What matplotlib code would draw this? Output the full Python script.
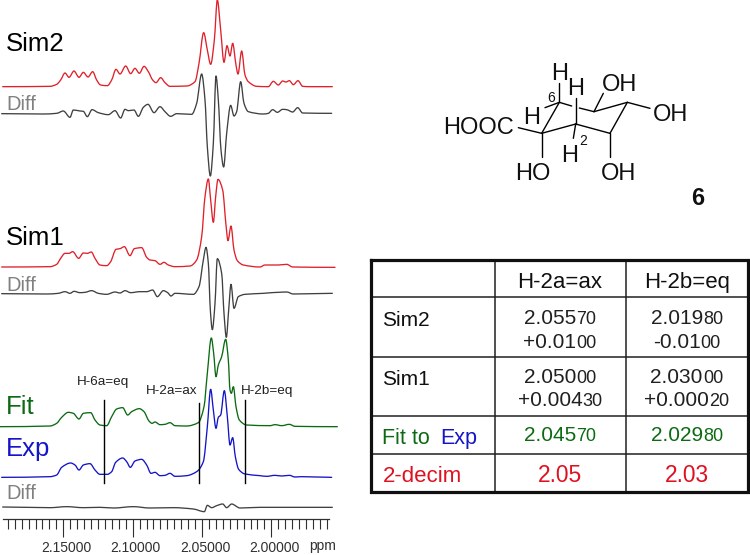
import numpy as np
import matplotlib
matplotlib.use('Agg')
import matplotlib.pyplot as plt
from matplotlib.path import Path
from matplotlib.patches import PathPatch
from matplotlib.transforms import ScaledTranslation

plt.rcParams['font.family'] = ['Liberation Sans', 'DejaVu Sans']

# traces, in pixels x3 (that's the scale of the crops)
sim2_x = [8,150,170,182,195,207,222,237,250,264,278,290,302,322,335,348,360,377,392,405,418,432,445,458,468,482,495,510,560,585,597,611,622,632,643,652,662,672,681,690,698,708,714,725,735,745,770,805,820,835,848,858,868,880,894,908,930,997]
sim2_y = [260,259,253,240,219,232,213,232,217,231,215,240,255,257,240,208,222,198,221,205,220,199,215,240,248,233,248,259,258,245,190,98,150,193,120,0,90,187,137,168,130,195,222,153,225,245,259,260,244,255,243,246,242,254,242,259,260,260]
diff2_x = [5,130,170,190,210,220,240,250,262,276,295,325,345,362,375,385,402,415,430,444,462,480,495,512,530,575,590,605,615,622,631,640,648,655,663,671,680,692,702,710,722,732,745,790,805,818,832,848,860,878,893,908,995]
diff2_y = [341,342,340,333,352,330,333,334,350,329,338,344,332,354,328,332,330,349,322,313,338,320,335,349,341,343,310,222,300,440,528,430,228,300,450,501,400,316,348,335,245,310,335,342,340,329,337,328,329,336,323,339,340]

sim1_x = [5,150,170,182,195,207,218,236,250,262,274,285,300,320,332,348,360,373,390,403,425,440,450,465,480,492,505,525,570,590,605,615,625,632,640,647,654,668,678,684,693,702,712,730,780,795,815,835,860,878,1005]
sim1_y = [291,290,283,265,250,250,245,265,249,250,246,265,285,287,275,238,236,230,257,236,233,262,270,272,283,277,285,290,288,270,200,80,27,90,157,80,28,60,165,212,168,240,272,285,291,285,285,285,283,291,292]
diff1_x = [5,140,175,195,210,222,240,255,275,295,320,345,360,375,392,420,440,458,472,490,503,513,525,580,597,610,618,625,631,637,645,652,665,672,679,686,693,702,715,735,790,815,835,860,880,997]
diff1_y = [371,372,370,365,370,364,368,367,362,370,373,366,369,362,368,365,365,360,380,362,368,378,370,373,350,270,232,280,420,479,400,266,310,430,502,420,343,415,380,373,370,368,367,366,372,370]

fit_x = [0,150,170,185,205,220,237,250,272,285,300,320,335,350,368,383,395,418,432,447,456,465,480,495,510,525,560,595,612,622,634,641,648,655,665,677,685,690,694,700,708,718,740,810,825,845,868,885,1012]
fit_y = [200,198,190,172,157,160,177,160,158,180,195,197,170,147,143,165,155,146,155,183,190,186,194,193,188,197,198,188,140,40,-66,-20,50,15,-10,-62,0,90,100,80,140,180,195,197,194,197,193,199,200]
exp_x = [5,150,170,185,212,225,237,250,270,285,300,322,335,347,368,380,391,405,425,440,453,465,480,495,510,525,560,590,610,622,632,640,648,655,662,673,682,690,698,706,716,735,780,800,825,845,868,885,905,995]
exp_y = [352,350,345,322,309,315,330,315,311,330,343,343,335,307,294,305,322,303,298,315,340,337,347,346,340,349,347,335,305,200,88,150,205,172,165,92,170,255,233,290,328,342,347,349,346,348,346,351,350,352]
diff0_x = [8,150,200,250,300,340,400,450,520,580,613,622,635,650,668,680,695,720,780,997]
diff0_y = [441,443,440,443,442,444,440,444,443,447,455,436,443,437,432,443,432,444,442,442]

# x pixel where each marker line sits, with its top pixel
marker_x = [104.3, 199, 244.7]
marker_top = [400, 403, 400]
marker_names = ['H-6a=eq', 'H-2a=ax', 'H-2b=eq']

major_ticks = [2.15, 2.10, 2.05, 2.00]

table_rows = ['Sim2', 'Sim1', 'Fit to Exp', '2-decim']
table_cols = ['H-2a=ax', 'H-2b=eq']
sim2_vals = [[('2.055', '70'), ('+0.01', '00')], [('2.019', '80'), ('-0.01', '00')]]
sim1_vals = [[('2.050', '00'), ('+0.004', '30')], [('2.030', '00'), ('+0.000', '20')]]
fit_vals = [('2.045', '70'), ('2.029', '80')]
dec_vals = ['2.05', '2.03']

RED = '#e0202a'
GREY = '#404040'
GREEN = '#0b6a12'
BLUE = '#1414c8'

fig = plt.figure(figsize=(7.5, 5.55), dpi=100)
ax = fig.add_axes([0, 0, 1, 1])
ax.set_xlim(0, 750)
ax.set_ylim(555, 0)
ax.axis('off')


def slopes(x, y):
    # flat at peaks and dips, harmonic mean of both sides otherwise
    d = np.diff(y) / np.diff(x)
    m = np.zeros(len(x))
    for i in range(1, len(x) - 1):
        if d[i - 1] * d[i] > 0:
            m[i] = 2 * d[i - 1] * d[i] / (d[i - 1] + d[i])
    return m


def trace(xs, ys, offset, color):
    # bezier through the readings, so the peaks come out round
    x = np.array(xs) / 3
    y = np.array(ys) / 3 + offset
    m = slopes(x, y)
    verts = [(x[0], y[0])]
    codes = [Path.MOVETO]
    for i in range(len(x) - 1):
        h = (x[i + 1] - x[i]) / 3
        verts += [(x[i] + h, y[i] + m[i] * h), (x[i + 1] - h, y[i + 1] - m[i + 1] * h), (x[i + 1], y[i + 1])]
        codes += [Path.CURVE4, Path.CURVE4, Path.CURVE4]
    ax.add_patch(PathPatch(Path(verts, codes), facecolor='none', edgecolor=color, lw=0.95,
                           capstyle='round', joinstyle='round', clip_on=True))


trace(sim2_x, sim2_y, 0, RED)
trace(diff2_x, diff2_y, 0, GREY)
trace(sim1_x, sim1_y, 170, RED)
trace(diff1_x, diff1_y, 170, GREY)
trace(fit_x, fit_y, 360, GREEN)
trace(exp_x, exp_y, 360, BLUE)
trace(diff0_x, diff0_y, 360, GREY)

ax.text(6, 51, 'Sim2', fontsize=18.5, color='black', va='baseline')
ax.text(6, 110, 'Diff', fontsize=14.5, color='#808080', va='baseline')
ax.text(6, 245, 'Sim1', fontsize=18.5, color='black', va='baseline')
ax.text(6, 291, 'Diff', fontsize=14.5, color='#808080', va='baseline')
ax.text(6, 414, 'Fit', fontsize=18.5, color=GREEN, va='baseline')
ax.text(6, 456, 'Exp', fontsize=18.5, color=BLUE, va='baseline')
ax.text(6, 499, 'Diff', fontsize=14.5, color='#808080', va='baseline')

for x, top in zip(marker_x, marker_top):
    ax.plot([x, x], [top, 483], color='black', lw=1.0)
ax.text(102.5, 385, marker_names[0], fontsize=9.7, ha='center', color='#202020')
ax.text(172, 394, marker_names[1], fontsize=9.7, ha='center', color='#202020')
ax.text(266.7, 394, marker_names[2], fontsize=9.7, ha='center', color='#202020')

# ppm scale is its own little axes, zero height at the axis line
scale = fig.add_axes([3 / 750, 1 - 519 / 555, 326 / 750, 0.0001])
scale.set_xlim(2.15 + 60.3 * 0.000721, 2.15 - 265.7 * 0.000721)
scale.patch.set_visible(False)
scale.set_yticks([])
for s in ['top', 'left', 'right']:
    scale.spines[s].set_visible(False)
scale.spines['bottom'].set_color('#303030')
scale.spines['bottom'].set_linewidth(0.9)
scale.set_xticks(major_ticks)
scale.set_xticklabels(['%.5f' % t for t in major_ticks], fontsize=10, color='#303030')
scale.set_xticks(np.arange(2.19, 1.955, -0.005), minor=True)
scale.tick_params(axis='x', which='major', length=13, width=0.8, pad=2.5, color='#303030')
scale.tick_params(axis='x', which='minor', length=7, width=0.8, color='#303030')
label_shift = ScaledTranslation(3 / 100, 0, fig.dpi_scale_trans)
for lab in scale.get_xticklabels():
    lab.set_transform(lab.get_transform() + label_shift)
ax.text(322.5, 550, 'ppm', fontsize=10, ha='center', va='baseline', color='#303030')

# structure, bonds as pairs of points in the x3 crop
bonds = [((335, 280), (265, 263)), ((335, 280), (437, 252)), ((437, 252), (540, 280)),
         ((540, 280), (592, 187)), ((592, 187), (492, 215)), ((492, 215), (448, 204)),
         ((425, 198), (388, 187)), ((335, 280), (388, 187)), ((335, 280), (335, 352)),
         ((540, 280), (540, 352)), ((492, 215), (520, 160)), ((592, 187), (660, 205)),
         ((388, 187), (388, 130)), ((388, 187), (345, 203)), ((437, 252), (430, 295)),
         ((437, 252), (437, 175))]
for a, b in bonds:
    ax.plot([430 + a[0] / 3, 430 + b[0] / 3], [40 + a[1] / 3, 40 + b[1] / 3], color='black',
            lw=1.0, solid_capstyle='round')

atoms = [('H', 388, 95, 17), ('H', 437, 140, 17), ('OH', 568, 128, 17), ('OH', 722, 218, 17),
         ('HOOC', 146, 258, 17), ('H', 305, 225, 17), ('6', 362, 168, 10), ('2', 460, 298, 10),
         ('H', 418, 340, 17), ('HO', 307, 393, 17), ('OH', 565, 393, 17)]
for label, x, y, size in atoms:
    ax.text(430 + x / 3, 40 + y / 3, label, fontsize=size, ha='center', va='center_baseline',
            color='#101010')
ax.text(430 + 803 / 3, 40 + 467 / 3, '6', fontsize=17, fontweight='bold', ha='center',
        va='center_baseline', color='#101010')

# table
tx0, tx1, tx2, tx3 = 370.5, 494.5, 625.5, 748
ty = [259.5, 297, 356.7, 415.7, 454, 491.5]
for y in ty[1:-1]:
    ax.plot([tx0, tx3], [y, y], color='#202020', lw=1.1)
for x in (tx1, tx2):
    ax.plot([x, x], [ty[0], ty[-1]], color='#202020', lw=1.1)
ax.plot([tx0, tx3, tx3, tx0, tx0], [ty[0], ty[0], ty[-1], ty[-1], ty[0]], color='#101010',
        lw=2.3, solid_joinstyle='miter')

renderer = fig.canvas.get_renderer()


def mixed(cx, y, big, small, color, big_size=15, small_size=13):
    # number with its last digits smaller, centred as one piece
    t1 = ax.text(0, y, big, fontsize=big_size, color=color, va='baseline')
    t2 = ax.text(0, y, small, fontsize=small_size, color=color, va='baseline')
    w1 = t1.get_window_extent(renderer).width
    w2 = t2.get_window_extent(renderer).width
    t1.set_x(cx - (w1 + w2) / 2)
    t2.set_x(cx - (w1 + w2) / 2 + w1)


col_cx = [(tx1 + tx2) / 2, (tx2 + tx3) / 2]
ax.text(382.5, 326.5, table_rows[0], fontsize=15, va='baseline', color='#101010')
ax.text(382.5, 385, table_rows[1], fontsize=15, va='baseline', color='#101010')
ax.text(382.5, 444, 'Fit to', fontsize=15.5, va='baseline', color=GREEN)
ax.text(440.5, 444, 'Exp', fontsize=15.5, va='baseline', color=BLUE)
ax.text(382.5, 482, table_rows[3], fontsize=16, va='baseline', color='#e01020')

for i, cx in enumerate(col_cx):
    ax.text(cx, 288, table_cols[i], fontsize=16, ha='center', va='baseline', color='#101010')
    mixed(cx, 324, sim2_vals[i][0][0], sim2_vals[i][0][1], '#202020')
    mixed(cx, 347.5, sim2_vals[i][1][0], sim2_vals[i][1][1], '#202020')
    mixed(cx, 382.7, sim1_vals[i][0][0], sim1_vals[i][0][1], '#202020')
    mixed(cx, 406, sim1_vals[i][1][0], sim1_vals[i][1][1], '#202020')
    mixed(cx, 441, fit_vals[i][0], fit_vals[i][1], GREEN)
    ax.text(cx, 482, dec_vals[i], fontsize=16.4, ha='center', va='baseline', color='#e01020')

fig.savefig('out.png', dpi=100)
